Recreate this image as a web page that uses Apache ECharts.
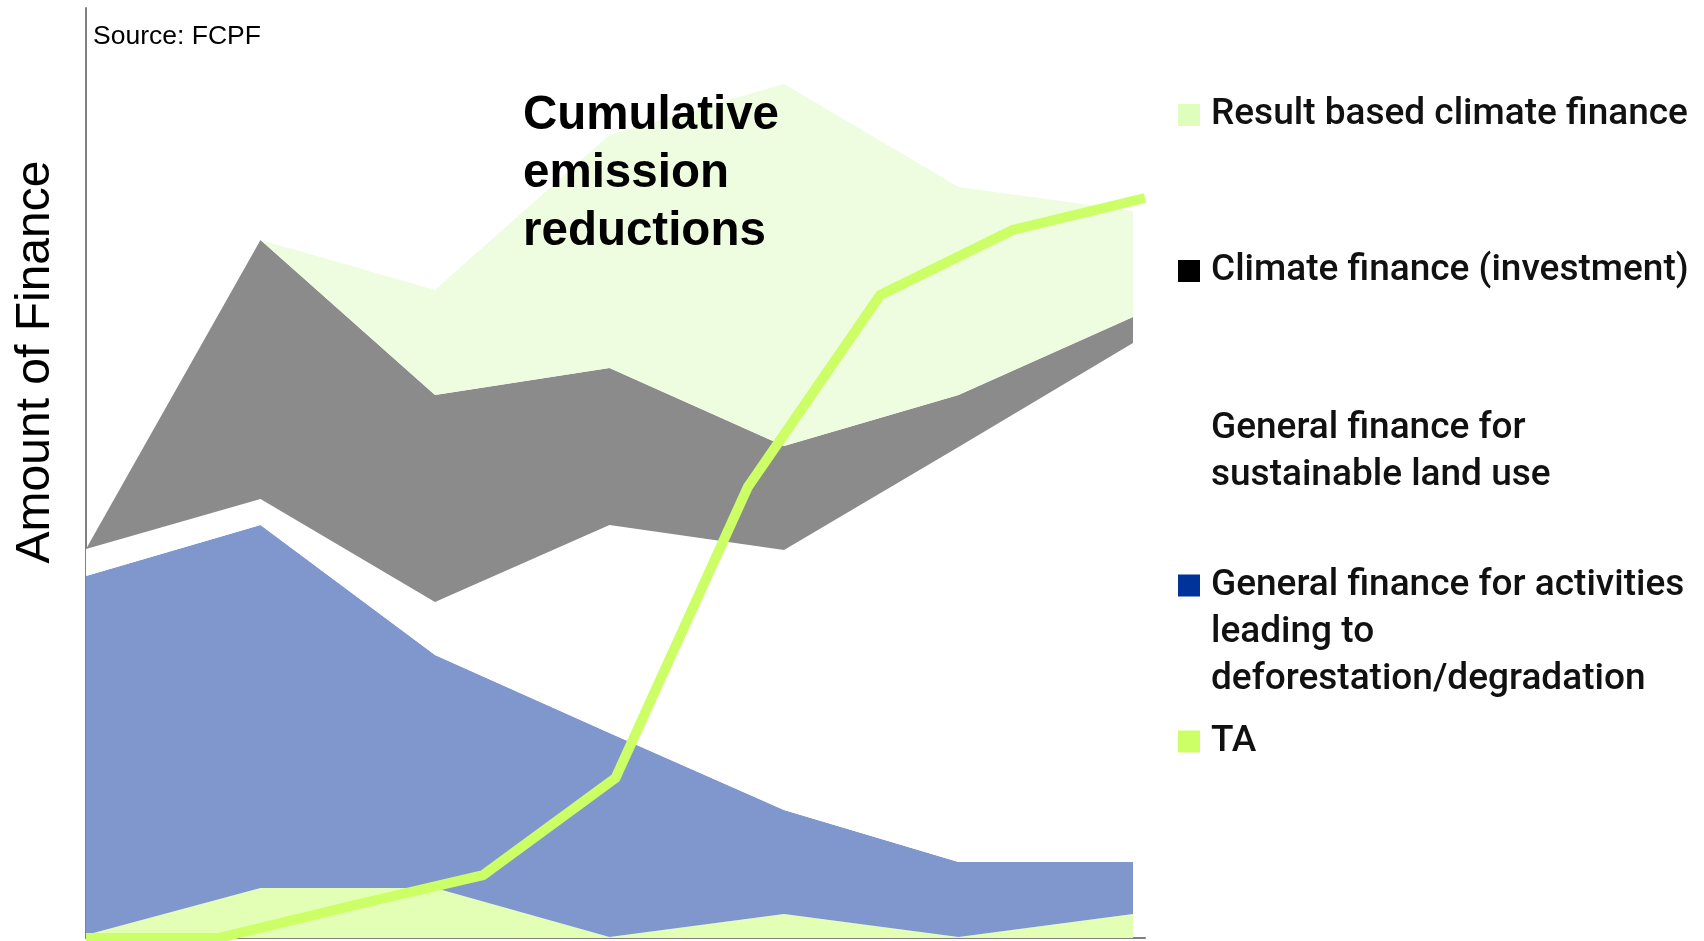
<!DOCTYPE html>
<html><head><meta charset="utf-8">
<script src="https://cdn.jsdelivr.net/npm/echarts/dist/echarts.min.js"></script>
<style>html,body{margin:0;padding:0;background:#fff;} #c{width:1704px;height:941px;}</style>
</head><body><div id="c"></div>
<script>
// Periods for the stacked finance areas
const periods = ['P1', 'P2', 'P3', 'P4', 'P5', 'P6', 'P7'];
// Finer steps for the emission reduction line
const lineSteps = ['S1', 'S2', 'S3', 'S4', 'S5', 'S6', 'S7', 'S8', 'S9'];

// Stacked series (bottom to top), arbitrary "amount of finance" units
const taArea = [3, 50, 50, 1, 24, 1, 24];
const deforestation = [359, 363, 233, 204, 104, 75, 52];
const sustainableLandUse = [27, 26, 53, 208, 260, 415, 519];
const climateInvestment = [0, 259, 207, 157, 104, 52, 26];
const resultBased = [0, 0, 105, 233, 362, 208, 106];
// Cumulative emission reductions line
const emissionReductions = [0, 0, 32, 63, 160, 451, 643, 708, 740];

const yMax = 930;

const chart = echarts.init(document.getElementById('c'), null, {renderer: 'canvas'});

function areaSeries(name, data, color) {
  return {
    name: name, type: 'line', stack: 'finance', data: data,
    xAxisIndex: 0, yAxisIndex: 0, symbol: 'none', showSymbol: false,
    lineStyle: {width: 0, color: color}, itemStyle: {color: color},
    areaStyle: {color: color, opacity: 1}, silent: true, z: 2, animation: false
  };
}

const legendFont = {fontFamily: 'Roboto', fontWeight: 500, fontSize: 37, color: '#111111', lineHeight: 47};
const legendText = Object.assign({}, legendFont, {padding: [0, 0, 0, 6]});
const legendBase = {
  left: 1178, orient: 'vertical', itemWidth: 22, itemHeight: 22, itemGap: 0,
  padding: 0, selectedMode: false, icon: 'rect', textStyle: legendText
};

const option = {
  backgroundColor: '#ffffff',
  animation: false,
  grid: [
    {left: 86, right: 571, top: 8, bottom: 3},
    {left: 86, right: 559, top: 8, bottom: 3}
  ],
  xAxis: [
    {gridIndex: 0, type: 'category', data: periods, boundaryGap: false, show: false},
    {gridIndex: 1, type: 'category', data: lineSteps, boundaryGap: false,
      axisLine: {show: true, lineStyle: {color: '#808080', width: 2}},
      axisTick: {show: false}, axisLabel: {show: false}, splitLine: {show: false}}
  ],
  yAxis: [
    {gridIndex: 0, type: 'value', min: 0, max: yMax,
      axisLine: {show: true, lineStyle: {color: '#808080', width: 2}},
      axisTick: {show: false}, axisLabel: {show: false}, splitLine: {show: false}},
    {gridIndex: 1, type: 'value', min: 0, max: yMax, show: false, splitLine: {show: false}}
  ],
  legend: [
    Object.assign({}, legendBase, {top: 91.5,
      data: [{name: 'Result based climate finance', itemStyle: {color: '#ddffbb', borderWidth: 0}}]}),
    Object.assign({}, legendBase, {top: 247.5,
      data: [{name: 'Climate finance (investment)', itemStyle: {color: '#000000', borderWidth: 0}}]}),
    Object.assign({}, legendBase, {top: 405.5,
      data: [{name: 'General finance for sustainable land use', icon: 'none'}],
      formatter: function () { return 'General finance for\nsustainable land use'; }}),
    Object.assign({}, legendBase, {top: 468,
      data: [{name: 'General finance for activities leading to deforestation/degradation', itemStyle: {color: '#003399', borderWidth: 0}}],
      textStyle: Object.assign({}, legendFont, {
        padding: [94, 0, 0, 6],
        rich: {t: {fontFamily: 'Roboto', fontWeight: 500, fontSize: 37, color: '#111111', lineHeight: 47}}
      }),
      formatter: function () { return '{t|General finance for activities}\n{t|leading to}\n{t|deforestation/degradation}'; }}),
    Object.assign({}, legendBase, {top: 718,
      data: [{name: 'TA', itemStyle: {color: '#ccff66', borderWidth: 0}}]})
  ],
  series: [
    areaSeries('TA', taArea, '#e3ffb5'),
    areaSeries('General finance for activities leading to deforestation/degradation', deforestation, '#7f97cd'),
    areaSeries('General finance for sustainable land use', sustainableLandUse, '#ffffff'),
    areaSeries('Climate finance (investment)', climateInvestment, '#8b8b8b'),
    areaSeries('Result based climate finance', resultBased, '#eefce0'),
    {
      name: 'Cumulative emission reductions', type: 'line', data: emissionReductions,
      xAxisIndex: 1, yAxisIndex: 1, symbol: 'none', showSymbol: false, clip: false,
      lineStyle: {width: 10, color: '#ccff66', cap: 'butt', join: 'miter'},
      itemStyle: {color: '#ccff66'}, silent: true, z: 5, animation: false
    }
  ],
  graphic: [
    {type: 'text', left: 93, top: 22, z: 10,
      style: {text: 'Source: FCPF', font: '26.5px "Liberation Sans", Arial, sans-serif', lineHeight: 30, fill: '#000000'}},
    {type: 'text', left: 523, top: 87, z: 10,
      style: {text: 'Cumulative\nemission\nreductions', font: 'bold 47.5px "Liberation Sans", Arial, sans-serif', lineHeight: 58, fill: '#000000'}},
    {type: 'text', x: 36, y: 362, rotation: Math.PI / 2, z: 10,
      style: {text: 'Amount of Finance', font: '48px "Liberation Sans", Arial, sans-serif', fill: '#000000', align: 'center', verticalAlign: 'middle'}}
  ]
};
chart.setOption(option);
</script>
</body></html>
